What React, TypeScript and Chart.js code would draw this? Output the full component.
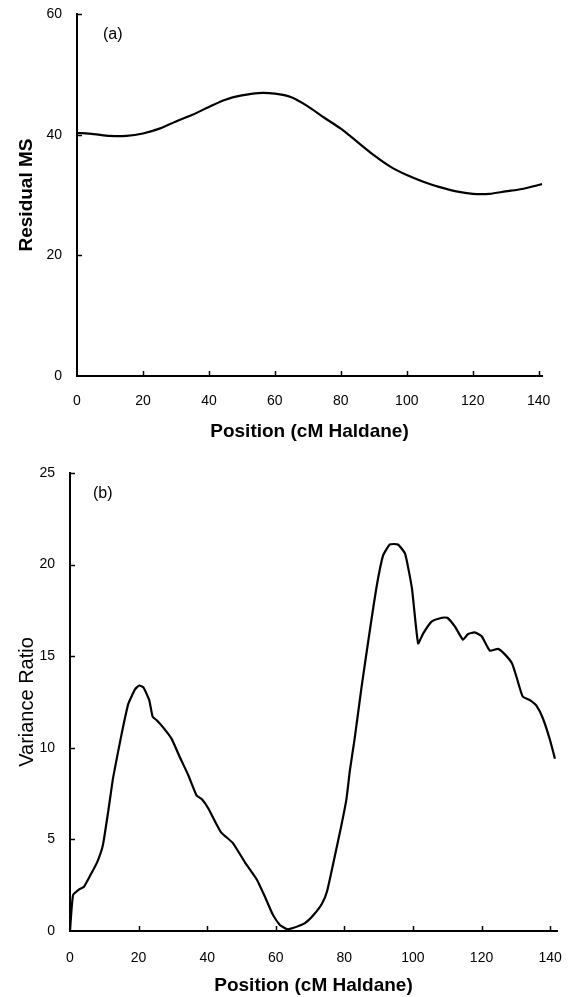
import React, { useEffect, useRef } from "react";
import { Chart, registerables } from "chart.js";
Chart.register(...registerables);

// Panel (a): Residual MS vs position
const positionsA = [0, 5, 10, 15, 20, 25, 30, 35, 40, 45, 50, 55, 60, 65, 70, 75, 80, 85, 90, 95, 100, 105, 110, 115, 120, 125, 130, 135, 141];
const residualMS = [40.3, 40.1, 39.8, 39.8, 40.2, 41.0, 42.2, 43.3, 44.6, 45.8, 46.5, 46.9, 46.8, 46.2, 44.7, 42.8, 41.0, 38.8, 36.6, 34.7, 33.3, 32.2, 31.3, 30.6, 30.2, 30.2, 30.6, 31.0, 31.8];

// Panel (b): Variance ratio vs position
const positionsB = [0, 0.9, 2.9, 4, 5.8, 7.9, 9.6, 11.2, 12.6, 15.1, 17, 19, 20.2, 21.4, 23.1, 24.1, 25.3, 27.2, 29.6, 32, 34.5, 36.9, 38.4, 40.3, 44, 47.5, 51, 54.5, 57, 59.2, 61.2, 63.3, 65, 68.5, 71, 73.5, 75, 77, 79, 80.6, 81.6, 83, 85, 87.5, 89.5, 91.3, 93.3, 95.6, 97.7, 99.7, 101.5, 103, 105.5, 108.5, 110, 112.3, 114.6, 116, 118, 120, 122.4, 124.8, 126.8, 128.9, 130.3, 132, 134.1, 136, 137.9, 140, 141.4];
const varianceRatio = [0, 1.96, 2.3, 2.4, 3.0, 3.75, 4.7, 6.6, 8.4, 10.8, 12.4, 13.2, 13.4, 13.3, 12.6, 11.7, 11.5, 11.1, 10.5, 9.5, 8.5, 7.4, 7.2, 6.7, 5.4, 4.8, 3.75, 2.8, 1.8, 0.87, 0.33, 0.1, 0.16, 0.43, 0.87, 1.5, 2.2, 3.9, 5.65, 7.2, 8.75, 10.5, 13.3, 16.5, 18.9, 20.5, 21.1, 21.1, 20.6, 18.7, 15.7, 16.25, 16.9, 17.1, 17.1, 16.6, 15.9, 16.2, 16.3, 16.1, 15.3, 15.4, 15.1, 14.6, 13.8, 12.8, 12.6, 12.3, 11.6, 10.4, 9.4];

const xTickValues = [0, 20, 40, 60, 80, 100, 120, 140];
const yTicksA = [0, 20, 40, 60];
const yTicksB = [0, 5, 10, 15, 20, 25];
const xTitle = "Position (cM Haldane)";
const yTitleA = "Residual MS";
const yTitleB = "Variance Ratio";
const panelA = "(a)";
const panelB = "(b)";

const FONT = "Arial, 'Liberation Sans', Helvetica, sans-serif";

const insideTicks = {
  id: "insideTicks",
  afterDraw(chart: any) {
    const { ctx, chartArea, scales } = chart;
    const x = scales.x, y = scales.y;
    ctx.save();
    ctx.strokeStyle = "#000";
    ctx.lineWidth = 1.5;
    x.ticks.forEach((t: any) => {
      if (t.value === 0) return;
      const px = Math.round(x.getPixelForValue(t.value)) + 0.5;
      ctx.beginPath();
      ctx.moveTo(px, chartArea.bottom);
      ctx.lineTo(px, chartArea.bottom - 5);
      ctx.stroke();
    });
    y.ticks.forEach((t: any) => {
      if (t.value === 0) return;
      const py = Math.round(y.getPixelForValue(t.value)) + 0.5;
      ctx.beginPath();
      ctx.moveTo(chartArea.left, py);
      ctx.lineTo(chartArea.left + 5, py);
      ctx.stroke();
    });
    ctx.restore();
  },
};

const panelLabel = {
  id: "panelLabel",
  afterDraw(chart: any, _args: any, opts: any) {
    if (!opts || !opts.text) return;
    const { ctx, chartArea } = chart;
    ctx.save();
    ctx.fillStyle = "#000";
    ctx.font = `16px ${FONT}`;
    ctx.textBaseline = "middle";
    ctx.textAlign = "left";
    ctx.fillText(opts.text, chartArea.left + opts.dx, chartArea.top + opts.dy);
    ctx.restore();
  },
};

interface Cfg {
  xs: number[];
  ys: number[];
  xMax: number;
  yMax: number;
  yTicks: number[];
  yTitle: string;
  yBold: boolean;
  yTitleSize: number;
  yWidth: number;
  xHeight: number;
  padTop: number;
  padRight: number;
  xLabelPad: number;
  xTitlePadBottom: number;
  label: string;
  labelDx: number;
  labelDy: number;
  tension: number;
}

function makeChart(canvas: HTMLCanvasElement, c: Cfg) {
  return new Chart(canvas, {
    type: "line",
    data: {
      datasets: [
        {
          data: c.xs.map((x, i) => ({ x, y: c.ys[i] })),
          borderColor: "#000",
          borderWidth: 2.2,
          pointRadius: 0,
          fill: false,
          tension: c.tension,
          clip: false as any,
        },
      ],
    },
    options: {
      animation: false,
      responsive: false,
      devicePixelRatio: 1,
      layout: { padding: { left: 0, right: c.padRight, top: c.padTop, bottom: 0 } },
      plugins: {
        legend: { display: false },
        tooltip: { enabled: false },
        panelLabel: { text: c.label, dx: c.labelDx, dy: c.labelDy },
      } as any,
      scales: {
        x: {
          type: "linear",
          min: 0,
          max: c.xMax,
          afterBuildTicks: (s: any) => {
            s.ticks = xTickValues.map((v) => ({ value: v }));
          },
          afterFit: (s: any) => {
            s.height = c.xHeight;
            s.paddingLeft = 0;
            s.paddingRight = 0;
          },
          grid: { display: false, drawTicks: false },
          border: { display: true, color: "#000", width: 2 },
          ticks: {
            color: "#000",
            font: { family: FONT, size: 14 },
            padding: c.xLabelPad,
            maxRotation: 0,
            autoSkip: false,
          },
          title: {
            display: true,
            text: xTitle,
            color: "#000",
            font: { family: FONT, size: 19, weight: "bold" },
            padding: { top: 0, bottom: c.xTitlePadBottom },
          },
        },
        y: {
          type: "linear",
          min: 0,
          max: c.yMax,
          afterBuildTicks: (s: any) => {
            s.ticks = c.yTicks.map((v) => ({ value: v }));
          },
          afterFit: (s: any) => {
            s.width = c.yWidth;
            s.paddingTop = 0;
            s.paddingBottom = 0;
          },
          grid: { display: false, drawTicks: false },
          border: { display: true, color: "#000", width: 2 },
          ticks: {
            color: "#000",
            font: { family: FONT, size: 14 },
            padding: 15,
            autoSkip: false,
          },
          title: {
            display: true,
            text: c.yTitle,
            color: "#000",
            font: { family: FONT, size: c.yTitleSize, weight: c.yBold ? "bold" : "normal" },
            padding: { top: 15, bottom: 0 },
          },
        },
      },
    },
    plugins: [insideTicks as any, panelLabel as any],
  });
}

export default function App() {
  const refA = useRef<HTMLCanvasElement>(null);
  const refB = useRef<HTMLCanvasElement>(null);

  useEffect(() => {
    const a = makeChart(refA.current!, {
      xs: positionsA,
      ys: residualMS,
      xMax: 141,
      yMax: 60,
      yTicks: yTicksA,
      yTitle: yTitleA,
      yBold: true,
      yTitleSize: 19,
      yWidth: 77,
      xHeight: 74,
      padTop: 14,
      padRight: 31,
      xLabelPad: 17,
      xTitlePadBottom: 7,
      label: panelA,
      labelDx: 26,
      labelDy: 21,
      tension: 0.3,
    });
    const b = makeChart(refB.current!, {
      xs: positionsB,
      ys: varianceRatio,
      xMax: 142,
      yMax: 25,
      yTicks: yTicksB,
      yTitle: yTitleB,
      yBold: false,
      yTitleSize: 20,
      yWidth: 70,
      xHeight: 66,
      padTop: 23,
      padRight: 16,
      xLabelPad: 19,
      xTitlePadBottom: 0,
      label: panelB,
      labelDx: 23,
      labelDy: 21,
      tension: 0.15,
    });
    return () => {
      a.destroy();
      b.destroy();
    };
  }, []);

  return (
    <div style={{ position: "absolute", left: 0, top: 0, width: 573, height: 997, background: "#fff" }}>
      <canvas ref={refA} width={573} height={450} style={{ position: "absolute", left: 0, top: 0, width: 573, height: 450 }} />
      <canvas ref={refB} width={573} height={547} style={{ position: "absolute", left: 0, top: 450, width: 573, height: 547 }} />
    </div>
  );
}
